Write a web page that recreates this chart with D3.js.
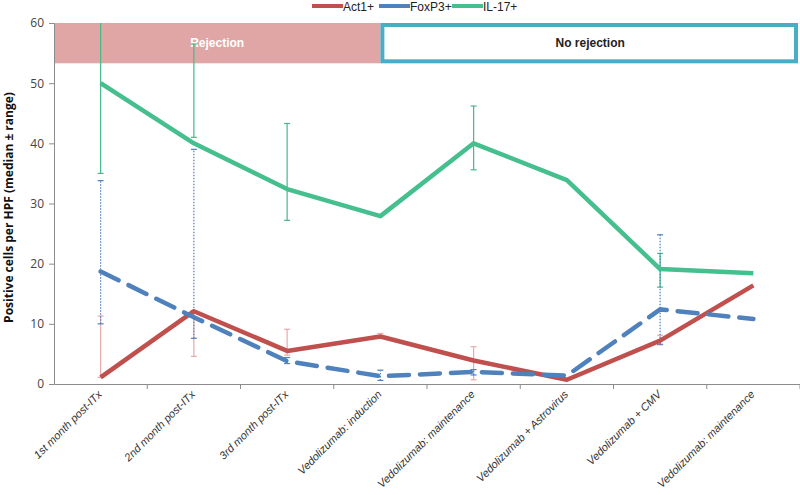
<!DOCTYPE html>
<html>
<head>
<meta charset="utf-8">
<script src="https://cdn.jsdelivr.net/npm/d3@7"></script>
<style>
  body { margin: 0; background: #fff; }
  svg { display: block; }
</style>
</head>
<body>
<svg id="chart" width="800" height="495"></svg>
<script>
// data
var categories = ["1st month post-ITx", "2nd month post-ITx", "3rd month post-ITx",
  "Vedolizumab: induction", "Vedolizumab: maintenance", "Vedolizumab + Astrovirus",
  "Vedolizumab + CMV", "Vedolizumab: maintenance "];
var act1 = [1.1, 12.1, 5.5, 7.9, 3.9, 0.7, 7.2, 16.4];
var foxp3 = [18.7, 11.1, 3.8, 1.3, 2.0, 1.4, 12.4, 10.8];
var il17 = [50, 40, 32.4, 27.9, 40, 33.9, 19.1, 18.4];
// ranges [low, high], null = no bar
var act1Range = [[1.1, 11.3], [4.6, 12.1], [4.8, 9.1], [7.6, 8.4], [0.7, 6.2], null, [6.5, 8.1], null];
var foxp3Range = [[10, 33.8], [7.6, 39], [3.4, 4.4], [0.6, 2.3], [1.5, 2.4], null, [6.6, 24.8], null];
var il17Range = [[35, 60], [41, 56.5], [27.2, 43.3], null, [35.6, 46.2], null, [16.1, 21.7], null];
var yTicks = [0, 10, 20, 30, 40, 50, 60];
var phases = [{label: "Rejection", from: 0, to: 3.5}, {label: "No rejection", from: 3.5, to: 8}];
var phaseBottom = 53.3;

var svg = d3.select("#chart");
var margin = {top: 23, left: 54};
var w = 746, h = 361;
var g = svg.append("g").attr("transform", "translate(" + margin.left + "," + margin.top + ")");

var x = d3.scaleBand().domain(categories).range([0, w]);
var y = d3.scaleLinear().domain([0, 60]).range([h, 0]);
var cx = function(i){ return x(categories[i]) + x.bandwidth() / 2; };
var bandPos = d3.scaleLinear().domain([0, 8]).range([0, w]);

// phase boxes
var rej = phases[0], norej = phases[1];
g.append("rect")
  .attr("x", bandPos(rej.from)).attr("y", y(60))
  .attr("width", bandPos(rej.to) - bandPos(rej.from))
  .attr("height", y(phaseBottom) - y(60))
  .attr("fill", "#dfa6a5");
g.append("text")
  .attr("x", (bandPos(rej.from) + bandPos(rej.to)) / 2).attr("y", (y(60) + y(phaseBottom)) / 2 + 4)
  .attr("text-anchor", "middle").attr("fill", "#fff")
  .style("font", "bold 12px 'Liberation Sans', Arial, sans-serif")
  .text(rej.label);
g.append("rect")
  .attr("x", bandPos(norej.from) + 2).attr("y", y(60) + 2)
  .attr("width", bandPos(norej.to) - bandPos(norej.from) - 6)
  .attr("height", y(phaseBottom) - y(60) - 4)
  .attr("fill", "#fff").attr("stroke", "#4bacc6").attr("stroke-width", 4);
g.append("text")
  .attr("x", (bandPos(norej.from) + bandPos(norej.to)) / 2).attr("y", (y(60) + y(phaseBottom)) / 2 + 4)
  .attr("text-anchor", "middle").attr("fill", "#222")
  .style("font", "bold 12px 'Liberation Sans', Arial, sans-serif")
  .text(norej.label);

// axes
var yAxis = g.append("g")
  .call(d3.axisLeft(y).tickValues(yTicks).tickSize(5).tickPadding(5));
yAxis.selectAll("text").attr("fill", "#444").style("font", "12px 'Open Sans', sans-serif");

var xAxis = g.append("g").attr("transform", "translate(0," + h + ")")
  .call(d3.axisBottom(x).tickSize(0).tickFormat(""));
xAxis.selectAll(".tick").remove();
g.selectAll(".domain").attr("stroke", "#8c8c8c");
yAxis.selectAll(".tick line").attr("stroke", "#8c8c8c");

// band boundary ticks
g.selectAll(".xtick").data(d3.range(1, 9)).enter().append("line")
  .attr("x1", function(d){ return bandPos(d); }).attr("x2", function(d){ return bandPos(d); })
  .attr("y1", h).attr("y2", h + 5)
  .attr("stroke", "#8c8c8c");

// category labels
g.selectAll(".xlab").data(categories).enter().append("text")
  .attr("transform", function(d, i){ return "translate(" + (cx(i) + 2) + "," + (h + 11) + ") rotate(-45)"; })
  .attr("text-anchor", "end")
  .attr("fill", "#333")
  .style("font", "italic 11px 'Liberation Sans', Arial, sans-serif")
  .text(function(d){ return d; });

// y title
svg.append("text")
  .attr("transform", "translate(13," + (margin.top + h / 2 + 4) + ") rotate(-90)")
  .attr("text-anchor", "middle")
  .attr("fill", "#111")
  .style("font", "bold 12px 'Open Sans', sans-serif")
  .text("Positive cells per HPF (median \u00b1 range)");

// error bars
function errorBars(ranges, color, dash) {
  ranges.forEach(function(r, i){
    if (!r) return;
    var eg = g.append("g").attr("stroke", color).attr("stroke-width", 1.2);
    eg.append("line").attr("x1", cx(i)).attr("x2", cx(i)).attr("y1", y(r[0])).attr("y2", y(r[1]))
      .attr("stroke-dasharray", dash);
    [r[0], r[1]].forEach(function(v){
      if (v >= 60) return;
      eg.append("line").attr("x1", cx(i) - 3).attr("x2", cx(i) + 3).attr("y1", y(v)).attr("y2", y(v));
    });
  });
}
errorBars(act1Range, "#eaa9a9", null);
errorBars(il17Range, "#45b98a", null);
errorBars(foxp3Range, "#4f81bd", "1.5,1.5");

var line = d3.line()
  .x(function(d, i){ return cx(i); })
  .y(function(d){ return y(d); });

g.append("path").datum(il17)
  .attr("fill", "none").attr("stroke", "#45bf8e").attr("stroke-width", 4.5)
  .attr("stroke-linejoin", "round").attr("d", line);
g.append("path").datum(act1)
  .attr("fill", "none").attr("stroke", "#c0504d").attr("stroke-width", 4.5)
  .attr("stroke-linejoin", "round").attr("d", line);
g.append("path").datum(foxp3)
  .attr("fill", "none").attr("stroke", "#4f81bd").attr("stroke-width", 4.5)
  .attr("stroke-dasharray", "20,11").attr("stroke-linecap", "round")
  .attr("d", line);

// legend
var legend = [{name: "Act1+", color: "#c0504d", x: 312}, {name: "FoxP3+", color: "#4f81bd", x: 379},
  {name: "IL-17+", color: "#45bf8e", x: 452}];
var lg = svg.selectAll(".leg").data(legend).enter().append("g");
lg.append("line").attr("x1", function(d){ return d.x; }).attr("x2", function(d){ return d.x + 31; })
  .attr("y1", 6).attr("y2", 6).attr("stroke", function(d){ return d.color; }).attr("stroke-width", 4);
lg.append("text").attr("x", function(d){ return d.x + 31; }).attr("y", 11)
  .attr("fill", "#222")
  .style("font", "12px 'Liberation Sans', Arial, sans-serif")
  .text(function(d){ return d.name; });
</script>
</body>
</html>
